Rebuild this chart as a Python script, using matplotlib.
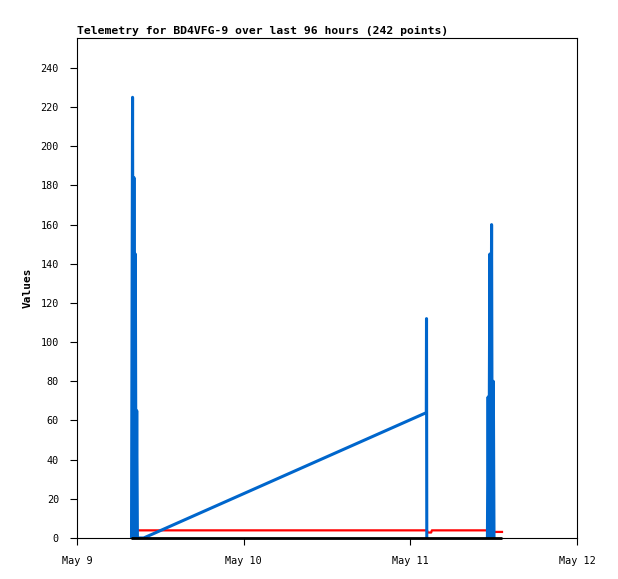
import matplotlib
matplotlib.use("Agg")
import matplotlib.pyplot as plt
import matplotlib.dates as mdates
import numpy as np
import pandas as pd

# hours after May 9 00:00 and values
START = pd.Timestamp("2024-05-09 00:00")

# nan = no blue reading (gap in the series)
blue_hours = [7.85, 8.0, 8.1, 8.2, 8.3, 8.4, 8.5, 8.6, 8.7, 9.6,
              50.3, 50.33, 50.37, 55.0, 59.1, 59.2, 59.3, 59.45, 59.55,
              59.7, 59.8, 59.95, 60.05]
blue_vals = [0, 225, 0, 184, 0, 145, 0, 65, 0, 0,
             64, 112, 0, np.nan, 0, 72, 0, 145, 0,
             160, 0, 80, 0]

red_hours = [7.8, 8.1, 8.2, 50.4, 50.5, 51.0, 51.1, 59.5, 59.6, 61.2]
red_vals = [3.3, 3.3, 3.9, 3.9, 2.8, 2.8, 3.9, 3.9, 3.1, 3.1]

black_hours = [7.8, 61.2]
black_vals = [0, 0]

x_ticks = ["2024-05-09", "2024-05-10", "2024-05-11", "2024-05-12"]
y_ticks = list(range(0, 241, 20))

TITLE = "Telemetry for BD4VFG-9 over last 96 hours (242 points)"


def to_time(hours):
    return [START + pd.Timedelta(hours=h) for h in hours]


plt.rcParams["font.family"] = ["DejaVu Sans Mono"]

fig = plt.figure(figsize=(6.18, 5.79), dpi=100)
ax = fig.add_axes([77 / 618, 1 - 538 / 579, 500 / 618, 500 / 579])

ax.plot(to_time(red_hours), red_vals, color="#ff0000", lw=1.6, zorder=2)
ax.plot(to_time(blue_hours), blue_vals, color="#0066cc", lw=2.2, zorder=3)
ax.plot(to_time(black_hours), black_vals, color="black", lw=2.0, zorder=4,
        clip_on=False, solid_capstyle="butt")

ax.set_xlim(pd.Timestamp(x_ticks[0]), pd.Timestamp(x_ticks[-1]))
ax.set_ylim(0, 255.3)
ax.set_xticks([pd.Timestamp(t) for t in x_ticks])
ax.xaxis.set_major_formatter(mdates.DateFormatter("%b %-d"))
ax.set_yticks(y_ticks)

ax.tick_params(axis="both", direction="out", length=5, width=0.8,
               labelsize=7.3, colors="black")
ax.tick_params(axis="x", pad=8)
ax.tick_params(axis="y", pad=8)
for s in ax.spines.values():
    s.set_linewidth(0.8)

ax.set_title(TITLE, loc="left", fontsize=8.2, fontweight="bold", pad=3)
ax.set_ylabel("Values", fontsize=8, fontweight="bold", labelpad=6)

fig.savefig("out.png", dpi=100)
